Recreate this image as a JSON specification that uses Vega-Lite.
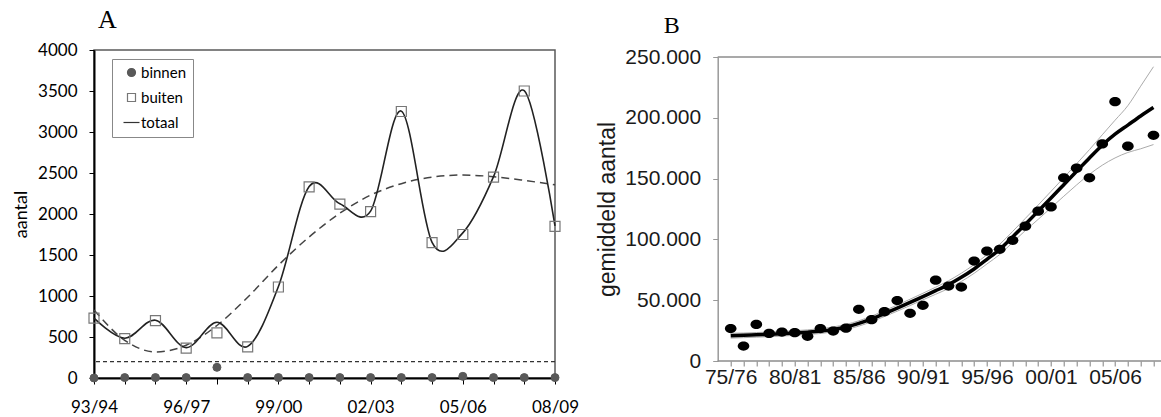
{
  "$schema": "https://vega.github.io/schema/vega-lite/v6.json",
  "padding": {"left": 11, "top": 6, "right": 0, "bottom": 0},
  "spacing": 162.7,
  "bounds": "flush",
  "background": "white",
  "config": {
    "view": {"stroke": null},
    "axis": {"grid": false},
    "legend": {"strokeColor": "#888888", "fillColor": "#ffffff", "padding": 6, "labelFont": "Lato", "labelFontSize": 15, "labelColor": "#000000", "symbolSize": 64, "symbolStrokeWidth": 1.2, "rowPadding": 9, "labelOffset": 2, "symbolOffset": 6}
  },
  "datasets": {
    "a": [
      {"season": "93/94", "buiten": 730, "binnen": 0, "totaal": 730, "trend": 830},
      {"season": "94/95", "buiten": 480, "binnen": 5, "totaal": 485, "trend": 460},
      {"season": "95/96", "buiten": 700, "binnen": 5, "totaal": 705, "trend": 318},
      {"season": "96/97", "buiten": 365, "binnen": 5, "totaal": 370, "trend": 400},
      {"season": "97/98", "buiten": 550, "binnen": 130, "totaal": 680, "trend": 640},
      {"season": "98/99", "buiten": 380, "binnen": 5, "totaal": 385, "trend": 985},
      {"season": "99/00", "buiten": 1110, "binnen": 5, "totaal": 1115, "trend": 1375},
      {"season": "00/01", "buiten": 2330, "binnen": 5, "totaal": 2335, "trend": 1720},
      {"season": "01/02", "buiten": 2120, "binnen": 5, "totaal": 2125, "trend": 2010},
      {"season": "02/03", "buiten": 2030, "binnen": 5, "totaal": 2035, "trend": 2230},
      {"season": "03/04", "buiten": 3250, "binnen": 5, "totaal": 3255, "trend": 2370},
      {"season": "04/05", "buiten": 1650, "binnen": 5, "totaal": 1655, "trend": 2450},
      {"season": "05/06", "buiten": 1750, "binnen": 20, "totaal": 1770, "trend": 2475},
      {"season": "06/07", "buiten": 2450, "binnen": 5, "totaal": 2455, "trend": 2455},
      {"season": "07/08", "buiten": 3500, "binnen": 5, "totaal": 3505, "trend": 2410},
      {"season": "08/09", "buiten": 1850, "binnen": 5, "totaal": 1855, "trend": 2355}
    ],
    "b": [
      {"season": "75/76", "count": 26700, "fit": 20800, "upper": 22800, "lower": 18800},
      {"season": "76/77", "count": 12300, "fit": 21100, "upper": 23000, "lower": 19200},
      {"season": "77/78", "count": 30100, "fit": 21500, "upper": 23400, "lower": 19600},
      {"season": "78/79", "count": 22700, "fit": 21900, "upper": 23800, "lower": 20000},
      {"season": "79/80", "count": 23800, "fit": 22400, "upper": 24300, "lower": 20500},
      {"season": "80/81", "count": 23300, "fit": 23000, "upper": 24900, "lower": 21100},
      {"season": "81/82", "count": 20300, "fit": 23700, "upper": 25600, "lower": 21800},
      {"season": "82/83", "count": 26700, "fit": 24600, "upper": 26600, "lower": 22600},
      {"season": "83/84", "count": 24600, "fit": 26000, "upper": 28000, "lower": 24000},
      {"season": "84/85", "count": 27000, "fit": 28000, "upper": 30100, "lower": 25900},
      {"season": "85/86", "count": 42500, "fit": 30900, "upper": 33100, "lower": 28700},
      {"season": "86/87", "count": 34000, "fit": 34600, "upper": 36900, "lower": 32300},
      {"season": "87/88", "count": 40500, "fit": 39000, "upper": 41400, "lower": 36600},
      {"season": "88/89", "count": 49700, "fit": 43500, "upper": 46000, "lower": 41000},
      {"season": "89/90", "count": 39200, "fit": 48200, "upper": 50800, "lower": 45600},
      {"season": "90/91", "count": 45800, "fit": 53000, "upper": 55700, "lower": 50300},
      {"season": "91/92", "count": 66500, "fit": 57800, "upper": 60700, "lower": 54900},
      {"season": "92/93", "count": 61600, "fit": 62800, "upper": 66000, "lower": 59600},
      {"season": "93/94", "count": 60800, "fit": 68800, "upper": 72200, "lower": 65400},
      {"season": "94/95", "count": 82200, "fit": 75700, "upper": 79300, "lower": 72100},
      {"season": "95/96", "count": 90400, "fit": 83600, "upper": 87400, "lower": 79800},
      {"season": "96/97", "count": 91800, "fit": 91800, "upper": 96000, "lower": 87600},
      {"season": "97/98", "count": 99200, "fit": 102000, "upper": 106500, "lower": 97500},
      {"season": "98/99", "count": 110900, "fit": 112500, "upper": 117300, "lower": 107300},
      {"season": "99/00", "count": 123200, "fit": 123200, "upper": 128300, "lower": 116500},
      {"season": "00/01", "count": 126700, "fit": 134000, "upper": 139500, "lower": 126000},
      {"season": "01/02", "count": 150600, "fit": 145000, "upper": 150800, "lower": 135500},
      {"season": "02/03", "count": 158500, "fit": 156000, "upper": 162200, "lower": 144800},
      {"season": "03/04", "count": 150600, "fit": 167000, "upper": 173800, "lower": 153500},
      {"season": "04/05", "count": 178500, "fit": 177500, "upper": 186000, "lower": 161000},
      {"season": "05/06", "count": 213300, "fit": 186500, "upper": 198000, "lower": 167000},
      {"season": "06/07", "count": 176600, "fit": 194000, "upper": 210000, "lower": 171500},
      {"season": "07/08", "count": null, "fit": 201500, "upper": 226000, "lower": 174500},
      {"season": "08/09", "count": 185600, "fit": 208500, "upper": 242000, "lower": 178000}
    ]
  },
  "hconcat": [
    {
      "width": 461,
      "height": 328,
      "title": {"text": "A", "anchor": "start", "frame": "group", "font": "Liberation Serif", "fontSize": 26, "fontWeight": "normal", "color": "#000000", "dx": 4, "offset": 8},
      "view": {"stroke": "#595959", "strokeWidth": 1.5},
      "layer": [
        {
          "data": {"values": [{"level": 200}]},
          "mark": {"type": "rule", "strokeDash": [4, 3], "color": "#333333", "strokeWidth": 1.2},
          "encoding": {"y": {"field": "level", "type": "quantitative", "scale": {"domain": [0, 4000], "nice": false}}}
        },
        {
          "data": {"name": "a"},
          "mark": {"type": "line", "interpolate": "monotone", "strokeDash": [8, 5], "color": "#444444", "strokeWidth": 1.5},
          "encoding": {
            "x": {"field": "season", "type": "ordinal", "sort": null, "scale": {"type": "point", "padding": 0},
              "axis": {"title": null, "labelExpr": "indexof(['93/94','96/97','99/00','02/03','05/06','08/09'], datum.value) >= 0 ? datum.value : ''", "labelAngle": 0, "labelFont": "Lato", "labelFontSize": 17, "labelColor": "#000000", "domainColor": "#000000", "domainWidth": 2, "tickColor": "#000000", "tickSize": 6, "tickWidth": 1, "labelPadding": 15, "labelOverlap": false, "labelFlush": false}},
            "y": {"field": "trend", "type": "quantitative",
              "axis": {"title": "aantal", "titleFont": "Lato", "titleFontSize": 18, "titleFontWeight": "normal", "titleColor": "#000000", "titlePadding": 7, "values": [0, 500, 1000, 1500, 2000, 2500, 3000, 3500, 4000], "format": "d", "labelFont": "Lato", "labelFontSize": 17, "labelColor": "#000000", "domainColor": "#000000", "domainWidth": 2, "tickColor": "#000000", "tickSize": 5, "labelPadding": 12}}
          }
        },
        {
          "data": {"name": "a"},
          "mark": {"type": "line", "interpolate": "cardinal", "color": "#222222", "strokeWidth": 1.6},
          "encoding": {
            "x": {"field": "season", "type": "ordinal", "sort": null},
            "y": {"field": "totaal", "type": "quantitative"}
          }
        },
        {
          "data": {"name": "a"},
          "mark": {"type": "point", "filled": true, "opacity": 1, "size": 100, "strokeWidth": 1.2},
          "encoding": {
            "x": {"field": "season", "type": "ordinal", "sort": null},
            "y": {"field": "buiten", "type": "quantitative"},
            "shape": {"datum": "buiten", "scale": {"domain": ["binnen", "buiten", "totaal"], "range": ["circle", "square", "M-2,0H2"]}, "legend": {"title": null, "orient": "none", "legendX": 18, "legendY": 9}},
            "fill": {"datum": "buiten", "scale": {"domain": ["binnen", "buiten", "totaal"], "range": ["#595959", "transparent", "transparent"]}, "legend": {"title": null, "orient": "none", "legendX": 18, "legendY": 9}},
            "stroke": {"datum": "buiten", "scale": {"domain": ["binnen", "buiten", "totaal"], "range": ["#595959", "#777777", "#333333"]}, "legend": {"title": null, "orient": "none", "legendX": 18, "legendY": 9}}
          }
        },
        {
          "data": {"name": "a"},
          "mark": {"type": "point", "filled": true, "opacity": 1, "size": 64, "strokeWidth": 1},
          "encoding": {
            "x": {"field": "season", "type": "ordinal", "sort": null},
            "y": {"field": "binnen", "type": "quantitative"},
            "shape": {"datum": "binnen"},
            "fill": {"datum": "binnen"},
            "stroke": {"datum": "binnen"}
          }
        }
      ]
    },
    {
      "width": 444,
      "height": 311,
      "title": {"text": "B", "anchor": "start", "frame": "group", "font": "Liberation Serif", "fontSize": 24, "fontWeight": "normal", "color": "#000000", "dx": -54, "offset": 8},
      "layer": [
        {
          "data": {"values": [{"level": 0}, {"level": 250000}]},
          "mark": {"type": "rule", "color": "#8c8c8c", "strokeWidth": 1.5},
          "encoding": {"y": {"field": "level", "type": "quantitative", "scale": {"domain": [0, 250000], "nice": false, "range": [311, 7]}}}
        },
        {
          "data": {"name": "b"},
          "mark": {"type": "line", "interpolate": "monotone", "color": "#ababab", "strokeWidth": 1},
          "encoding": {
            "x": {"field": "season", "type": "ordinal", "sort": null, "scale": {"type": "point", "range": [6.6, 442.2]},
              "axis": {"title": null, "domain": false, "labelExpr": "indexof(['75/76','80/81','85/86','90/91','95/96','00/01','05/06'], datum.value) >= 0 ? datum.value : ''", "labelAngle": 0, "labelFont": "Liberation Sans", "labelFontSize": 21, "labelColor": "#1a1a1a", "tickColor": "#808080", "tickSize": 5, "tickWidth": 1, "labelPadding": 0, "labelOverlap": false, "labelFlush": false}},
            "y": {"field": "upper", "type": "quantitative",
              "axis": {"title": "gemiddeld aantal", "titleFont": "Liberation Sans", "titleFontSize": 23, "titleFontWeight": "normal", "titleColor": "#1a1a1a", "titlePadding": 5, "values": [0, 50000, 100000, 150000, 200000, 250000], "labelExpr": "replace(format(datum.value, ','), ',', '.')", "labelFont": "Liberation Sans", "labelFontSize": 21, "labelColor": "#1a1a1a", "domainColor": "#999999", "domainWidth": 1.5, "tickColor": "#999999", "tickSize": 5, "labelPadding": 12}}
          }
        },
        {
          "data": {"name": "b"},
          "mark": {"type": "line", "interpolate": "monotone", "color": "#ababab", "strokeWidth": 1},
          "encoding": {
            "x": {"field": "season", "type": "ordinal", "sort": null},
            "y": {"field": "lower", "type": "quantitative"}
          }
        },
        {
          "data": {"name": "b"},
          "mark": {"type": "line", "interpolate": "monotone", "color": "#000000", "strokeWidth": 3.5},
          "encoding": {
            "x": {"field": "season", "type": "ordinal", "sort": null},
            "y": {"field": "fit", "type": "quantitative"}
          }
        },
        {
          "data": {"name": "b"},
          "mark": {"type": "point", "filled": true, "opacity": 1, "color": "#000000", "size": 135, "shape": "M-1,0A1,0.8,0,1,0,1,0A1,0.8,0,1,0,-1,0Z", "clip": true},
          "encoding": {
            "x": {"field": "season", "type": "ordinal", "sort": null},
            "y": {"field": "count", "type": "quantitative"}
          }
        }
      ]
    }
  ]
}
